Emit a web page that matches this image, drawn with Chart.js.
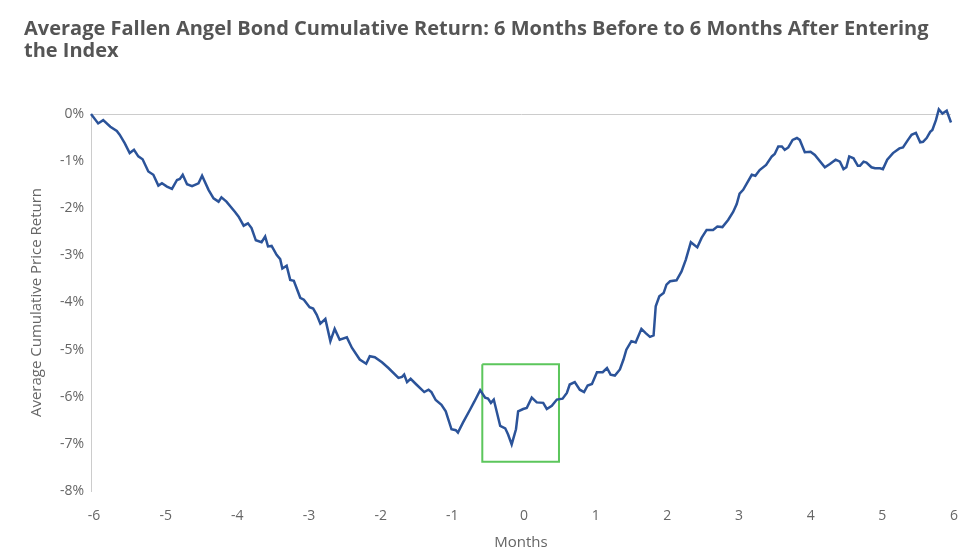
<!DOCTYPE html>
<html>
<head>
<meta charset="utf-8">
<script src="https://cdn.jsdelivr.net/npm/chart.js@4/dist/chart.umd.min.js"></script>
<style>
  html, body { margin: 0; padding: 0; background: #fff; }
  canvas { display: block; }
</style>
</head>
<body>
<canvas id="chart" width="974" height="559"></canvas>
<script>
// months relative to the index entry date
var months = [
  -6.00, -5.90, -5.83, -5.73, -5.64, -5.60, -5.53, -5.46, -5.40, -5.34,
  -5.28, -5.20, -5.13, -5.06, -5.01, -4.94, -4.87, -4.80, -4.76, -4.72,
  -4.66, -4.59, -4.50, -4.45, -4.36, -4.29, -4.22, -4.18, -4.11, -3.99,
  -3.94, -3.87, -3.81, -3.76, -3.70, -3.62, -3.57, -3.53, -3.48, -3.41,
  -3.36, -3.33, -3.27, -3.22, -3.17, -3.08, -3.03, -2.95, -2.90, -2.85,
  -2.80, -2.73, -2.66, -2.60, -2.53, -2.43, -2.36, -2.25, -2.16, -2.11,
  -2.04, -1.94, -1.85, -1.71, -1.66, -1.63, -1.59, -1.54, -1.46, -1.35,
  -1.29, -1.25, -1.19, -1.11, -1.05, -0.97, -0.91, -0.88, -0.81, -0.71,
  -0.65, -0.57, -0.50, -0.46, -0.42, -0.38, -0.29, -0.22, -0.18, -0.13,
  -0.07, -0.04, 0.03, 0.08, 0.15, 0.22, 0.31, 0.36, 0.43, 0.50,
  0.58, 0.64, 0.68, 0.75, 0.82, 0.88, 0.93, 0.99, 1.06, 1.14,
  1.20, 1.25, 1.31, 1.38, 1.43, 1.47, 1.54, 1.60, 1.68, 1.74,
  1.80, 1.85, 1.88, 1.93, 1.99, 2.03, 2.08, 2.17, 2.24, 2.30,
  2.37, 2.46, 2.52, 2.59, 2.68, 2.74, 2.81, 2.89, 2.96, 3.01,
  3.05, 3.10, 3.22, 3.27, 3.33, 3.42, 3.50, 3.54, 3.59, 3.64,
  3.68, 3.73, 3.79, 3.85, 3.89, 3.96, 4.04, 4.10, 4.24, 4.31,
  4.39, 4.45, 4.50, 4.54, 4.58, 4.64, 4.70, 4.73, 4.78, 4.82,
  4.89, 4.94, 5.01, 5.05, 5.11, 5.19, 5.28, 5.33, 5.40, 5.45,
  5.51, 5.57, 5.61, 5.66, 5.71, 5.74, 5.79, 5.83, 5.88, 5.94,
  6.00
];

// average cumulative price return, percent
var cumulativeReturn = [
  0.00, -0.20, -0.13, -0.27, -0.36, -0.44, -0.62, -0.83, -0.76, -0.90,
  -0.96, -1.22, -1.29, -1.52, -1.47, -1.54, -1.59, -1.40, -1.38, -1.29,
  -1.49, -1.53, -1.47, -1.31, -1.61, -1.79, -1.86, -1.77, -1.86, -2.08,
  -2.18, -2.37, -2.32, -2.42, -2.68, -2.72, -2.60, -2.81, -2.80, -2.99,
  -3.08, -3.28, -3.22, -3.52, -3.54, -3.90, -3.94, -4.10, -4.13, -4.26,
  -4.45, -4.35, -4.82, -4.56, -4.79, -4.74, -4.96, -5.21, -5.30, -5.14,
  -5.16, -5.27, -5.39, -5.60, -5.58, -5.53, -5.69, -5.62, -5.74, -5.90,
  -5.85, -5.90, -6.07, -6.17, -6.31, -6.69, -6.71, -6.76, -6.55, -6.27,
  -6.10, -5.86, -6.02, -6.04, -6.13, -6.06, -6.62, -6.67, -6.80, -7.01,
  -6.69, -6.31, -6.26, -6.24, -6.02, -6.12, -6.13, -6.26, -6.19, -6.06,
  -6.04, -5.92, -5.74, -5.69, -5.85, -5.90, -5.76, -5.73, -5.48, -5.48,
  -5.39, -5.53, -5.55, -5.42, -5.21, -5.00, -4.82, -4.85, -4.56, -4.65,
  -4.73, -4.70, -4.08, -3.87, -3.80, -3.62, -3.55, -3.53, -3.34, -3.09,
  -2.72, -2.83, -2.63, -2.46, -2.46, -2.39, -2.40, -2.25, -2.08, -1.91,
  -1.69, -1.61, -1.29, -1.31, -1.19, -1.08, -0.90, -0.85, -0.69, -0.69,
  -0.76, -0.71, -0.55, -0.51, -0.55, -0.81, -0.80, -0.87, -1.13, -1.06,
  -0.97, -1.01, -1.17, -1.13, -0.90, -0.94, -1.10, -1.10, -1.01, -1.03,
  -1.13, -1.15, -1.15, -1.17, -0.97, -0.83, -0.73, -0.71, -0.55, -0.44,
  -0.40, -0.60, -0.59, -0.51, -0.38, -0.34, -0.13, 0.10, 0.01, 0.07,
  -0.18
];

// highlighted window around the entry date
var boxMonths = [-0.54, 0.53];
var boxReturns = [-5.31, -7.38];

var linePoints = months.map(function (m, i) { return { x: m, y: cumulativeReturn[i] } })
var boxPoints = [
  { x: boxMonths[0], y: boxReturns[0] },
  { x: boxMonths[1], y: boxReturns[0] },
  { x: boxMonths[1], y: boxReturns[1] },
  { x: boxMonths[0], y: boxReturns[1] },
  { x: boxMonths[0], y: boxReturns[0] }
]

Chart.defaults.font.family = "'Open Sans', sans-serif"
Chart.defaults.color = '#666'

var ctx = document.getElementById('chart')
var myChart = new Chart(ctx, {
  type: 'line',
  data: {
    datasets: [{
      label: 'Average Cumulative Price Return',
      data: linePoints,
      borderColor: '#2b5399',
      borderWidth: 2.5,
      pointRadius: 0,
      tension: 0,
      fill: false,
      clip: false
    },
    {
      label: 'Window',
      data: boxPoints,
      borderColor: '#5cc65c',
      borderWidth: 2,
      pointRadius: 0,
      tension: 0,
      fill: false
    }]
  },
  options: {
    responsive: false,
    animation: false,
    devicePixelRatio: 1,
    layout: { padding: { left: 24, right: 23, top: 0, bottom: 0 } },
    plugins: {
      legend: { display: false },
      tooltip: { enabled: false },
      title: {
        display: true,
        align: 'start',
        text: ['Average Fallen Angel Bond Cumulative Return: 6 Months Before to 6 Months After Entering', 'the Index'],
        color: '#555',
        font: { size: 20, weight: 'bold', lineHeight: 1.1 },
        padding: { top: 18, bottom: 52 }
      }
    },
    scales: {
      x: {
        type: 'linear',
        min: -6,
        max: 6,
        afterFit: function (scale) { scale.height = 68 },
        border: { display: false },
        grid: { display: false },
        ticks: { stepSize: 1, padding: 9, labelOffset: 3, font: { size: 14 } },
        title: { display: true, text: 'Months', font: { size: 15 }, padding: { top: 0, bottom: 7 } }
      },
      y: {
        min: -8,
        max: 0,
        afterFit: function (scale) { scale.width = 67 },
        border: { display: true, color: '#ccc' },
        grid: {
          drawTicks: false,
          color: function (c) { return c.tick && c.tick.value === 0 ? '#ccc' : 'rgba(0,0,0,0)' }
        },
        ticks: {
          stepSize: 1,
          padding: 7,
          font: { size: 14 },
          callback: function (v) { return v + '%' }
        },
        title: { display: true, text: 'Average Cumulative Price Return', font: { size: 15 }, padding: { top: 4, bottom: 0 } }
      }
    }
  }
});
</script>
</body>
</html>
